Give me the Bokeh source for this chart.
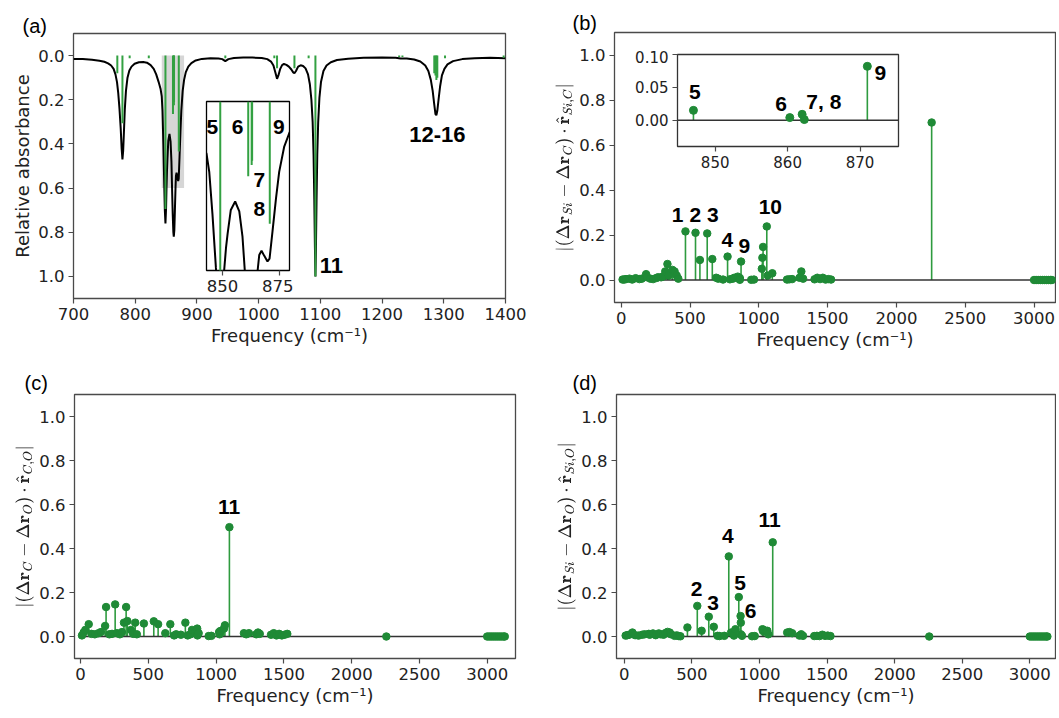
from bokeh.plotting import figure
from bokeh.models import Range1d, FixedTicker, PrintfTickFormatter, Label, GridBox
from bokeh.embed import file_html
from bokeh.resources import INLINE

# ---------------- data ----------------
# (a) broadened IR spectrum
spec_freq = [700, 715, 730, 742, 750, 756, 761, 765, 768, 770.5, 772.5, 774.5, 776.5, 778, 779.3,
             780.5, 781.8, 783.2, 785, 787.5, 790.5, 794, 799, 806, 813, 819, 825, 830, 834, 838,
             841, 843, 844.2, 845.6, 847.1, 848, 849, 850, 850.7, 851.5, 852.2, 853.6, 855.5, 857.3,
             858.7, 859.7, 860.8, 861.8, 862.5, 863.4, 864.3, 865.3, 866, 867, 868.2, 869.6, 870.5,
             871.8, 873.3, 874.7, 876.9, 879.2, 882, 886, 891, 898, 908, 922, 935, 941, 946, 951, 960,
             975, 990, 1005, 1014, 1020, 1024, 1027, 1029.8, 1032, 1035, 1038, 1041, 1045, 1049, 1053,
             1056, 1058, 1060.5, 1064, 1068, 1072, 1076, 1080, 1083, 1085.5, 1087.5, 1089, 1090.2,
             1091.2, 1092, 1092.8, 1093.8, 1095, 1096.5, 1098.5, 1101, 1105, 1110, 1117, 1127, 1145,
             1170, 1200, 1222, 1230, 1240, 1252, 1262, 1270, 1275, 1279, 1282, 1284.5, 1286.5, 1288,
             1289.5, 1291.5, 1294, 1297, 1301, 1306, 1315, 1330, 1350, 1375, 1400]
spec_abs = [0.015, 0.016, 0.019, 0.023, 0.028, 0.035, 0.045, 0.06, 0.085, 0.12, 0.17, 0.24, 0.33, 0.42, 0.47,
            0.43, 0.34, 0.24, 0.16, 0.1, 0.068, 0.05, 0.037, 0.03, 0.029, 0.032, 0.043, 0.06, 0.085, 0.12,
            0.15, 0.185, 0.25, 0.4, 0.59, 0.7, 0.76, 0.69, 0.6, 0.52, 0.47, 0.385, 0.355, 0.39,
            0.48, 0.6, 0.72, 0.8, 0.82, 0.79, 0.7, 0.6, 0.545, 0.53, 0.548, 0.568, 0.558,
            0.46, 0.345, 0.25, 0.16, 0.11, 0.075, 0.05, 0.034, 0.022, 0.015, 0.012, 0.013, 0.016, 0.025, 0.016, 0.011,
            0.009, 0.009, 0.011, 0.016, 0.027, 0.045, 0.075, 0.105, 0.09, 0.06, 0.043, 0.038, 0.042, 0.05, 0.063,
            0.076, 0.08, 0.07, 0.05, 0.044, 0.047, 0.058, 0.085, 0.13, 0.2, 0.3, 0.45, 0.65,
            0.87, 1.0, 0.88, 0.66, 0.45, 0.3, 0.19, 0.12, 0.07, 0.045, 0.03, 0.02, 0.014,
            0.01, 0.009, 0.01, 0.013, 0.013, 0.018, 0.027, 0.045, 0.07, 0.11, 0.16, 0.22, 0.265, 0.27,
            0.25, 0.2, 0.14, 0.09, 0.06, 0.04, 0.025, 0.016, 0.012, 0.01, 0.012]

# (a) stick intensities
stick_freq = [771, 779.3, 791, 822, 849, 861.2, 862.7, 862.9, 870.6, 946, 1025.4, 1029.8, 1058, 1081,
              1092, 1227.7, 1233, 1284.6, 1286.5, 1288, 1289.5, 1302, 1397]
stick_int = [0.08, 0.306, 0.012, 0.012, 0.695, 0.265, 0.225, 0.21, 0.434, 0.012, 0.012, 0.057, 0.057, 0.012,
             1.0, 0.006, 0.006, 0.08, 0.09, 0.11, 0.1, 0.012, 0.01]

# inset windows (also the grey highlight in (a))
inset_a_x = (843.0, 879.2)
inset_a_y = (0.0, 0.6)
inset_b_x = (844.8, 875.3)
inset_b_y = (-0.04, 0.10)

# (b), (c), (d) normal-mode projections
mode_freq = [10, 22, 35, 60, 80, 105, 132, 150, 181, 188,
             212, 232, 255, 268, 290, 305, 320, 336, 345, 372,
             388, 403, 415, 467, 540, 572, 625, 662, 690, 705,
             740, 773, 790, 811, 822, 847, 860.3, 862, 862.3, 871,
             945, 965, 1022, 1026, 1031, 1058, 1065, 1098, 1205, 1222,
             1242, 1296, 1309, 1322, 1405, 1425, 1445, 1465, 1485, 1505,
             1525, 2256, 3000, 3015, 3030, 3045, 3060, 3075, 3090, 3105, 3120, 3130]
proj_si_c = [0.002, 0.002, 0.004, 0.006, 0.002, 0.008, 0.004, 0.006, 0.026, 0.012,
             0.006, 0.004, 0.009, 0.012, 0.012, 0.016, 0.038, 0.071, 0.02, 0.045,
             0.038, 0.02, 0.006, 0.216, 0.21, 0.089, 0.207, 0.093, 0.01, 0.006,
             0.002, 0.104, 0.003, 0.006, 0.01, 0.015, 0.004, 0.009, 0.001, 0.082,
             0.001, 0.002, 0.05, 0.099, 0.147, 0.238, 0.02, 0.03, 0.002, 0.003,
             0.004, 0.01, 0.038, 0.006, 0.003, 0.01, 0.004, 0.01, 0.002, 0.004,
             0.002, 0.70, 0.0, 0.0, 0.0, 0.0, 0.0, 0.0, 0.0, 0.0, 0.0, 0.0]
proj_c_o = [0.005, 0.018, 0.03, 0.056, 0.012, 0.01, 0.015, 0.02, 0.048, 0.134,
            0.01, 0.012, 0.146, 0.015, 0.01, 0.02, 0.063, 0.134, 0.07, 0.03,
            0.012, 0.063, 0.01, 0.059, 0.069, 0.056, 0.015, 0.056, 0.005, 0.01,
            0.008, 0.063, 0.005, 0.01, 0.03, 0.02, 0.036, 0.01, 0.005, 0.015,
            0.002, 0.003, 0.02, 0.01, 0.025, 0.036, 0.051, 0.497, 0.015, 0.01,
            0.015, 0.01, 0.018, 0.012, 0.008, 0.015, 0.005, 0.012, 0.005, 0.008,
            0.012, 0.0, 0.0, 0.0, 0.0, 0.0, 0.0, 0.0, 0.0, 0.0, 0.0, 0.0]
proj_si_o = [0.004, 0.006, 0.008, 0.018, 0.006, 0.004, 0.008, 0.01, 0.012, 0.008,
             0.014, 0.006, 0.014, 0.01, 0.008, 0.016, 0.021, 0.018, 0.01, 0.003,
             0.005, 0.002, 0.001, 0.041, 0.139, 0.026, 0.09, 0.044, 0.003, 0.002,
             0.003, 0.364, 0.018, 0.004, 0.033, 0.179, 0.093, 0.063, 0.01, 0.003,
             0.001, 0.002, 0.033, 0.025, 0.03, 0.026, 0.01, 0.428, 0.018, 0.02,
             0.015, 0.004, 0.01, 0.003, 0.002, 0.003, 0.002, 0.008, 0.003, 0.004,
             0.002, 0.0, 0.0, 0.0, 0.0, 0.0, 0.0, 0.0, 0.0, 0.0, 0.0, 0.0]

freq_ticks_a = [700, 800, 900, 1000, 1100, 1200, 1300, 1400]
freq_ticks = [0, 500, 1000, 1500, 2000, 2500, 3000]
val_ticks = [0.0, 0.2, 0.4, 0.6, 0.8, 1.0]
inset_a_ticks = [850, 875]
inset_b_xticks = [850, 860, 870]
inset_b_yticks = [0.0, 0.05, 0.10]

# ---------------- style ----------------
GREEN_DOT = "#1f8a36"
GREEN_STEM = "#2e9b3f"
GREEN_STICK = "#33a142"
FRAME = "#4a4a4a"
TXT = "#222222"
XLABEL = "Frequency (cm\u207b\u00b9)"


def make_fig(w, h, xr, yr, mbl, mbt, mbr, mbb, tick_size="16.5px", title=None, **kw):
    p = figure(width=w, height=h, x_range=Range1d(*xr), y_range=Range1d(*yr),
               output_backend="svg", toolbar_location=None, title=title,
               min_border_left=mbl, min_border_top=mbt, min_border_right=mbr,
               min_border_bottom=mbb, frame_align=False, **kw)
    p.grid.visible = False
    p.outline_line_color = FRAME
    p.outline_line_width = 1.3
    p.background_fill_color = "white"
    p.border_fill_color = "white"
    for ax in p.axis:
        ax.axis_line_color = None
        ax.major_tick_line_color = FRAME
        ax.major_tick_line_width = 1.2
        ax.major_tick_in = 0
        ax.major_tick_out = 5
        ax.minor_tick_line_color = None
        ax.major_label_standoff = 4
        ax.major_label_text_font = "DejaVu Sans"
        ax.major_label_text_font_size = tick_size
        ax.major_label_text_color = TXT
        ax.axis_label_text_font = "DejaVu Sans"
        ax.axis_label_text_font_size = "18px"
        ax.axis_label_text_font_style = "normal"
        ax.axis_label_text_color = TXT
        ax.axis_label_standoff = 2
    if title is not None:
        p.title.align = "left"
        p.title.standoff = 1
        p.title.text_font = "Liberation Sans"
        p.title.text_font_size = "20px"
        p.title.text_font_style = "normal"
        p.title.text_color = "black"
    return p


def num(p, x, y, t, size="21px"):
    p.add_layout(Label(x=x, y=y, text=t, text_font="Liberation Sans", text_font_style="bold",
                       text_font_size=size, text_align="center", text_baseline="middle",
                       text_color="black"))


def stems(p, vals, size=7.5):
    n = len(mode_freq)
    p.segment(x0=mode_freq, y0=[0] * n, x1=mode_freq, y1=vals, line_color=GREEN_STEM, line_width=1.6)
    p.line([min(mode_freq), max(mode_freq)], [0, 0], line_color="#333333", line_width=1.6)
    p.scatter(mode_freq, vals, size=size, fill_color=GREEN_DOT, line_color=GREEN_DOT)


# page positions (left, top) of each figure
POS = {"a": (4, 7), "ai": (202, 97), "b": (546, 4), "bi": (631, 50), "c": (4, 364), "d": (548, 364)}

# ---------------- panel (a) ----------------
pa = make_fig(523, 352, (700, 1400), (1.1, -0.1), 69, 26, 22, 61, title="(a)")
pa.title.offset = -51
pa.title.standoff = -6
pa.quad(left=inset_a_x[0], right=inset_a_x[1], top=inset_a_y[0], bottom=inset_a_y[1],
        fill_color="#d6d6d6", line_color=None)
pa.line(spec_freq, spec_abs, line_color="black", line_width=2)
pa.segment(x0=stick_freq, y0=[0] * len(stick_freq), x1=stick_freq, y1=stick_int,
           line_color=GREEN_STICK, line_width=2)
pa.xaxis.ticker = FixedTicker(ticks=freq_ticks_a)
pa.yaxis.ticker = FixedTicker(ticks=val_ticks)
pa.yaxis.formatter = PrintfTickFormatter(format="%.1f")
pa.xaxis.axis_label = XLABEL
pa.yaxis.axis_label = "Relative absorbance"
num(pa, 1118, 0.95, "11", "22px")
num(pa, 1289.5, 0.359, "12-16", "22px")

# inset of (a)
pai = make_fig(91, 203, inset_a_x, (inset_a_y[1], inset_a_y[0]), 4, 4, 4, 30, y_axis_location=None)
pai.border_fill_alpha = 0
pai.outline_line_color = "black"
pai.line(spec_freq, spec_abs, line_color="black", line_width=2)
pai.segment(x0=stick_freq, y0=[0] * len(stick_freq), x1=stick_freq, y1=stick_int,
            line_color=GREEN_STICK, line_width=2)
pai.xaxis.ticker = FixedTicker(ticks=inset_a_ticks)
for t, x, y in [("5", 845.6, 0.09), ("6", 856.6, 0.09), ("9", 874.5, 0.09),
                ("7", 866.0, 0.28), ("8", 866.0, 0.383)]:
    num(pai, x, y, t, "21px")

# ---------------- panel (b) ----------------
pb = make_fig(510, 359, (-48.7, 3156), (-0.1, 1.1), 68, 28, 1, 61, title="(b)")
pb.title.offset = -42
pb.title.standoff = -3
stems(pb, proj_si_c)
pb.xaxis.ticker = FixedTicker(ticks=freq_ticks)
pb.yaxis.ticker = FixedTicker(ticks=val_ticks)
pb.yaxis.formatter = PrintfTickFormatter(format="%.1f")
pb.xaxis.axis_label = XLABEL
pb.yaxis.axis_label = r"$$|(\Delta \mathbf{r}_{Si} - \Delta \mathbf{r}_{C}) \cdot \hat{\mathbf{r}}_{Si,C}|$$"
pb.yaxis.axis_label_text_font_size = "14px"
for t, x, y in [("1", 409, 0.287), ("2", 538.5, 0.287), ("3", 666.6, 0.287),
                ("4", 771, 0.18), ("9", 894, 0.151), ("10", 1083.6, 0.324)]:
    num(pb, x, y, t)

# inset of (b)
pbi = make_fig(271, 126, inset_b_x, inset_b_y, 46, 4, 4, 30, tick_size="15px")
pbi.border_fill_alpha = 0
pbi.outline_line_color = "#333333"
stems(pbi, proj_si_c, size=8)
pbi.xaxis.ticker = FixedTicker(ticks=inset_b_xticks)
pbi.yaxis.ticker = FixedTicker(ticks=inset_b_yticks)
pbi.yaxis.formatter = PrintfTickFormatter(format="%.2f")
for t, x, y in [("5", 847.2, 0.043), ("6", 859.1, 0.024), ("7, 8", 865.0, 0.028), ("9", 872.8, 0.072)]:
    num(pbi, x, y, t)

# ---------------- panel (c) ----------------
pc = make_fig(514, 352, (-45, 3209), (-0.1, 1.1), 70, 30, 3, 58, title="(c)")
pc.title.offset = -50
stems(pc, proj_c_o)
pc.xaxis.ticker = FixedTicker(ticks=freq_ticks)
pc.yaxis.ticker = FixedTicker(ticks=val_ticks)
pc.yaxis.formatter = PrintfTickFormatter(format="%.1f")
pc.xaxis.axis_label = XLABEL
pc.yaxis.axis_label = r"$$|(\Delta \mathbf{r}_{C} - \Delta \mathbf{r}_{O}) \cdot \hat{\mathbf{r}}_{C,O}|$$"
pc.yaxis.axis_label_text_font_size = "14.5px"
num(pc, 1095, 0.587, "11")

# ---------------- panel (d) ----------------
pdd = make_fig(508, 352, (-57.7, 3190), (-0.1, 1.1), 68, 30, 1, 58, title="(d)")
pdd.title.offset = -44
stems(pdd, proj_si_o)
pdd.xaxis.ticker = FixedTicker(ticks=freq_ticks)
pdd.yaxis.ticker = FixedTicker(ticks=val_ticks)
pdd.yaxis.formatter = PrintfTickFormatter(format="%.1f")
pdd.xaxis.axis_label = XLABEL
pdd.yaxis.axis_label = r"$$|(\Delta \mathbf{r}_{Si} - \Delta \mathbf{r}_{O}) \cdot \hat{\mathbf{r}}_{Si,O}|$$"
pdd.yaxis.axis_label_text_font_size = "14.5px"
for t, x, y in [("11", 1075.6, 0.53), ("4", 766, 0.457), ("2", 535.5, 0.214),
                ("3", 656, 0.154), ("5", 856, 0.244), ("6", 934.6, 0.116)]:
    num(pdd, x, y, t)

# ---------------- layout (overlapping cells, positioned by margins) ----------------
figs = [("a", pa), ("b", pb), ("c", pc), ("d", pdd), ("ai", pai), ("bi", pbi)]
for key, f in figs:
    left, top = POS[key]
    f.margin = (top, 0, 0, left)
    f.align = "start"

grid = GridBox(children=[(f, 0, 0) for _, f in figs], width=1056, height=716)

with open("out.html", "w") as fh:
    fh.write(file_html(grid, INLINE, title="IR modes"))
